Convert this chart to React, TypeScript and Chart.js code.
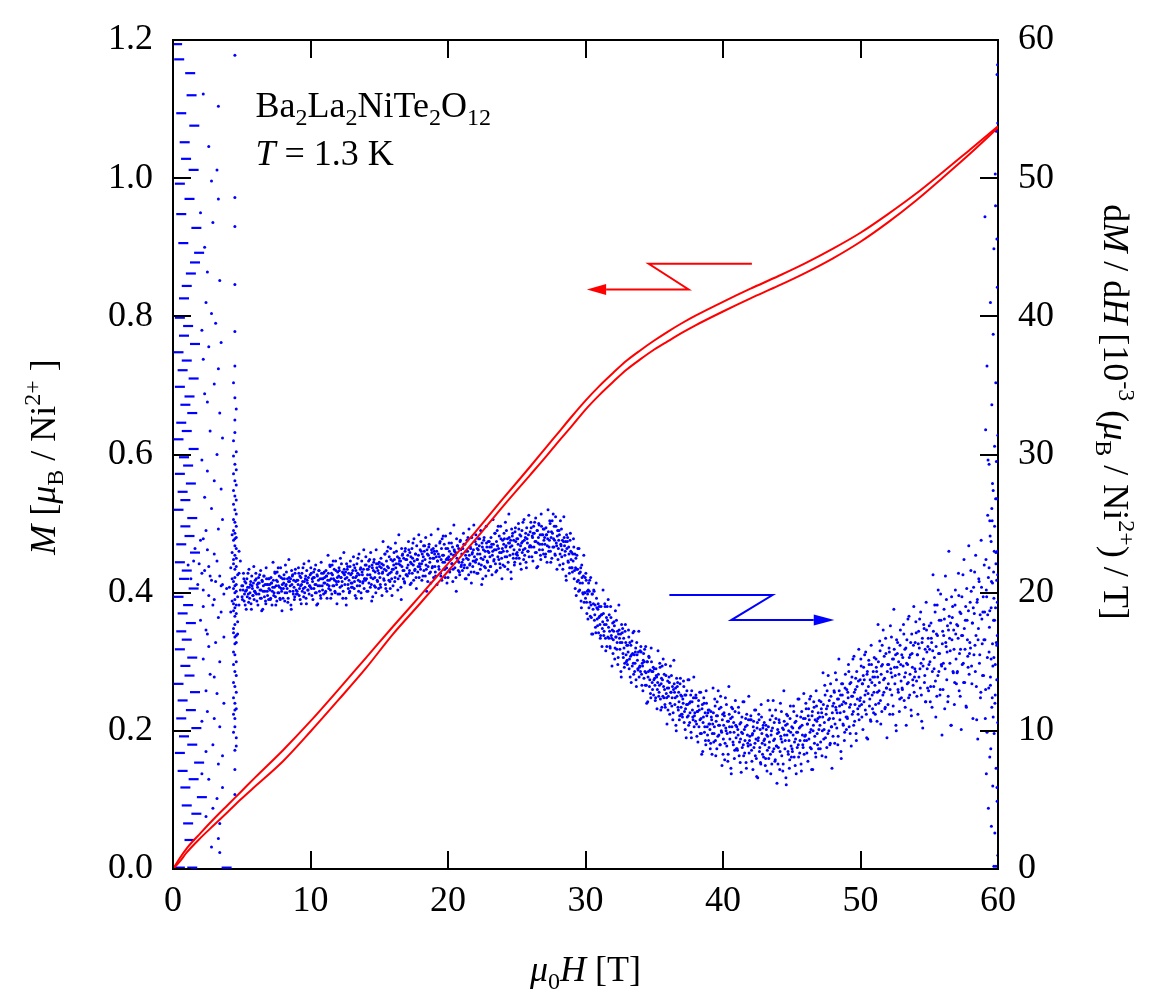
import { useEffect, useRef } from "react";
import { Chart, registerables } from "chart.js";

Chart.register(...registerables);

const FAMILY = '"Liberation Serif", "Times New Roman", Times, serif';
const SIZE = 36;
const RED = "#ff0000";
const BLUE = "#0000ff";
const TICK_LEN = 18;

// Axis ticks
const fieldTicks = [0, 10, 20, 30, 40, 50, 60];
const magTicks = [0, 0.2, 0.4, 0.6, 0.8, 1.0, 1.2];
const derivTicks = [0, 10, 20, 30, 40, 50, 60];

// Magnetization M (μB / Ni2+) for the two field sweeps
const mField = [0, 0.5, 1, 2, 3, 4, 5, 6, 8, 10, 12, 14, 16, 18, 20, 22, 24, 26, 27, 28, 29, 30, 31, 32, 33, 34, 35, 36, 37, 38, 40, 42, 44, 46, 48, 50, 52, 54, 56, 58, 60];
const mSweepDown = [0, 0.016, 0.03, 0.052, 0.073, 0.093, 0.113, 0.133, 0.172, 0.214, 0.259, 0.305, 0.351, 0.396, 0.442, 0.488, 0.536, 0.583, 0.607, 0.631, 0.655, 0.678, 0.699, 0.718, 0.736, 0.751, 0.765, 0.778, 0.79, 0.801, 0.821, 0.84, 0.858, 0.877, 0.898, 0.921, 0.948, 0.977, 1.009, 1.042, 1.075];
const mSweepUp = [0, 0.011, 0.024, 0.045, 0.064, 0.083, 0.102, 0.12, 0.156, 0.199, 0.244, 0.29, 0.34, 0.385, 0.431, 0.477, 0.525, 0.571, 0.594, 0.618, 0.641, 0.665, 0.686, 0.705, 0.723, 0.738, 0.752, 0.764, 0.776, 0.787, 0.807, 0.826, 0.844, 0.863, 0.884, 0.908, 0.936, 0.967, 1.001, 1.036, 1.073];

// dM/dH (10^-3 μB / Ni2+ / T): each row = start field, then 20 samples spaced 0.05 T
const SAMPLE_STEP = 0.05;
const plateauRows = [
  [5, 20.5, 19.5, 20.2, 21.0, 19.9, 19.1, 20.7, 20.2, 19.7, 21.4, 19.3, 20.4, 20.0, 20.8, 18.8, 20.5, 19.8, 20.7, 19.5, 20.1],
  [6, 20.0, 21.0, 19.4, 20.4, 20.7, 19.9, 21.3, 19.6, 20.2, 18.7, 20.8, 20.1, 21.2, 19.7, 20.6, 19.2, 21.0, 20.1, 20.6, 19.5],
  [7, 21.0, 20.2, 19.6, 20.7, 19.1, 20.4, 20.9, 20.0, 21.5, 19.7, 20.5, 19.4, 20.8, 21.8, 20.0, 20.4, 19.5, 21.1, 20.1, 20.6],
  [8, 19.6, 20.7, 21.0, 20.0, 20.5, 21.5, 20.3, 19.3, 20.8, 21.1, 20.1, 21.0, 18.8, 20.6, 21.3, 19.9, 20.4, 19.7, 21.7, 20.2],
  [9, 20.9, 19.9, 20.6, 21.4, 20.3, 19.5, 21.1, 20.6, 20.1, 21.8, 19.7, 20.8, 20.4, 21.2, 19.2, 20.9, 20.2, 21.1, 19.9, 20.5],
  [10, 20.4, 21.4, 19.8, 20.8, 21.1, 20.3, 21.7, 20.0, 20.6, 19.1, 21.2, 20.5, 21.6, 20.1, 21.0, 19.6, 21.4, 20.5, 21.0, 19.9],
  [11, 21.5, 20.7, 20.1, 21.2, 19.6, 20.9, 21.4, 20.5, 22.0, 20.2, 21.0, 19.9, 21.3, 22.3, 20.5, 20.9, 20.0, 21.6, 20.6, 21.1],
  [12, 19.9, 21.2, 21.6, 20.4, 21.1, 22.1, 20.8, 19.6, 21.4, 21.7, 20.6, 21.5, 19.1, 21.1, 21.9, 20.3, 20.9, 20.1, 22.3, 20.7],
  [13, 21.4, 20.4, 21.1, 22.0, 20.8, 19.8, 21.6, 21.2, 20.5, 22.5, 20.1, 21.3, 20.8, 21.8, 19.6, 21.5, 20.7, 21.7, 20.3, 21.0],
  [14, 20.9, 22.0, 20.1, 21.3, 21.7, 20.7, 22.4, 20.4, 21.1, 19.4, 21.8, 21.0, 22.2, 20.5, 21.5, 20.0, 22.1, 20.9, 21.6, 20.3],
];
const humpRows = [
  [15, 22.2, 21.1, 20.4, 21.8, 19.8, 21.5, 22.0, 20.9, 22.8, 20.6, 21.6, 20.1, 21.9, 23.3, 20.9, 21.4, 20.3, 22.4, 21.0, 21.7],
  [16, 20.5, 22.0, 22.4, 21.1, 21.8, 23.0, 21.5, 20.2, 22.1, 22.5, 21.2, 22.3, 19.5, 21.9, 22.8, 21.0, 21.6, 20.7, 23.2, 21.3],
  [17, 22.4, 21.2, 22.0, 23.1, 21.6, 20.6, 22.6, 22.1, 21.4, 23.6, 20.9, 22.3, 21.7, 22.8, 20.3, 22.4, 21.5, 22.7, 21.1, 21.9],
  [18, 21.7, 23.0, 20.9, 22.3, 22.6, 21.6, 23.4, 21.2, 22.0, 20.1, 22.8, 21.9, 23.3, 21.4, 22.5, 20.7, 23.1, 21.8, 22.5, 21.1],
  [19, 23.0, 21.9, 21.2, 22.6, 20.6, 22.3, 22.8, 21.7, 23.6, 21.4, 22.4, 20.9, 22.7, 24.1, 21.7, 22.2, 21.1, 23.2, 21.8, 22.5],
  [20, 21.1, 22.6, 23.0, 21.7, 22.4, 23.6, 22.1, 20.8, 22.7, 23.1, 21.8, 22.9, 20.1, 22.5, 23.4, 21.6, 22.2, 21.3, 23.8, 21.9],
  [21, 22.8, 21.6, 22.4, 23.5, 22.0, 21.0, 23.0, 22.5, 21.8, 24.0, 21.3, 22.7, 22.1, 23.2, 20.7, 22.8, 21.9, 23.1, 21.5, 22.3],
  [22, 22.2, 23.5, 21.4, 22.8, 23.1, 22.1, 23.9, 21.7, 22.5, 20.6, 23.3, 22.4, 23.8, 21.9, 23.0, 21.2, 23.6, 22.3, 23.0, 21.6],
  [23, 23.7, 22.6, 21.9, 23.3, 21.3, 23.0, 23.5, 22.4, 24.3, 22.1, 23.1, 21.6, 23.4, 24.8, 22.4, 22.9, 21.8, 23.9, 22.5, 23.2],
  [24, 22.0, 23.5, 23.9, 22.6, 23.3, 24.5, 23.0, 21.7, 23.6, 24.0, 22.7, 23.8, 21.0, 23.4, 24.3, 22.5, 23.1, 22.2, 24.7, 22.8],
  [25, 23.9, 22.7, 23.5, 24.6, 23.1, 22.1, 24.1, 23.6, 22.9, 25.1, 22.4, 23.8, 23.2, 24.3, 21.8, 23.9, 23.0, 24.2, 22.6, 23.4],
  [26, 23.4, 24.7, 22.6, 24.0, 24.3, 23.3, 25.1, 22.9, 23.7, 21.8, 24.5, 23.6, 25.0, 23.1, 24.2, 22.4, 24.8, 23.5, 24.2, 22.8],
  [27, 24.6, 23.5, 22.8, 24.2, 22.2, 23.9, 24.4, 23.3, 25.2, 23.0, 24.0, 22.5, 24.3, 25.7, 23.3, 23.8, 22.7, 24.8, 23.4, 24.1],
  [28, 22.4, 23.8, 24.2, 22.8, 23.5, 24.6, 23.1, 21.7, 23.7, 24.0, 22.7, 23.7, 20.9, 23.2, 24.0, 22.2, 22.8, 21.8, 24.3, 22.4],
];
const dropRows = [
  [29, 22.9, 21.5, 22.3, 23.3, 21.6, 20.3, 22.5, 21.7, 20.8, 23.2, 20.1, 21.4, 20.7, 21.8, 18.9, 21.1, 20.0, 21.2, 19.3, 20.0],
  [30, 19.6, 20.9, 18.5, 19.9, 20.2, 18.9, 20.9, 18.3, 19.1, 17.0, 19.9, 18.8, 20.2, 18.0, 19.1, 17.1, 19.6, 18.1, 18.8, 17.1],
  [31, 19.0, 17.7, 16.9, 18.4, 16.1, 17.9, 18.5, 17.2, 19.2, 16.7, 17.7, 16.1, 18.0, 19.5, 16.7, 17.2, 16.0, 18.2, 16.7, 17.3],
  [32, 15.6, 17.2, 17.6, 16.0, 16.8, 18.0, 16.4, 14.8, 17.0, 17.3, 15.9, 17.0, 13.9, 16.4, 17.4, 15.3, 16.0, 14.9, 17.7, 15.5],
  [33, 16.2, 14.8, 15.7, 16.8, 15.2, 13.9, 16.2, 15.5, 14.7, 17.1, 14.1, 15.5, 14.9, 16.0, 13.2, 15.5, 14.5, 15.7, 13.9, 14.7],
  [34, 14.3, 15.7, 13.3, 14.7, 15.1, 13.8, 15.9, 13.3, 14.2, 12.0, 15.0, 13.9, 15.4, 13.2, 14.4, 12.4, 15.0, 13.5, 14.3, 12.6],
  [35, 14.5, 13.3, 12.4, 14.0, 11.6, 13.5, 14.1, 12.8, 14.9, 12.3, 13.4, 11.7, 13.7, 15.2, 12.4, 13.0, 11.7, 14.0, 12.4, 13.1],
  [36, 11.5, 13.1, 13.5, 12.0, 12.8, 14.0, 12.4, 10.8, 13.0, 13.4, 11.9, 13.1, 10.0, 12.5, 13.5, 11.5, 12.1, 11.1, 13.8, 11.7],
  [37, 12.5, 11.0, 12.0, 13.2, 11.4, 10.1, 12.6, 11.9, 11.0, 13.7, 10.4, 12.0, 11.3, 12.6, 9.5, 12.1, 11.0, 12.4, 10.3, 11.3],
  [38, 10.7, 12.4, 9.6, 11.4, 11.8, 10.3, 12.8, 9.8, 10.9, 8.3, 11.9, 10.6, 12.4, 9.9, 11.3, 9.0, 12.0, 10.3, 11.3, 9.3],
];
const dipRows = [
  [39, 11.5, 10.1, 9.1, 11.0, 8.3, 10.5, 11.3, 9.8, 12.3, 9.3, 10.7, 8.7, 11.1, 12.9, 9.7, 10.4, 9.0, 11.7, 9.9, 10.8],
  [40, 8.3, 10.4, 11.1, 9.1, 10.2, 11.9, 9.8, 7.8, 10.7, 11.2, 9.4, 10.9, 6.9, 10.3, 11.6, 9.0, 9.9, 8.6, 12.2, 9.5],
  [41, 10.3, 8.6, 9.7, 11.3, 9.2, 7.7, 10.6, 9.9, 8.8, 12.1, 8.2, 10.1, 9.3, 10.9, 7.3, 10.4, 9.1, 10.8, 8.4, 9.6],
  [42, 9.0, 10.8, 7.8, 9.8, 10.3, 8.8, 11.5, 8.2, 9.4, 6.7, 10.6, 9.3, 11.2, 8.5, 10.1, 7.6, 11.0, 9.1, 10.2, 8.1],
  [43, 10.6, 9.0, 8.0, 10.1, 7.1, 9.6, 10.3, 8.8, 11.5, 8.3, 9.7, 7.6, 10.2, 12.2, 8.7, 9.4, 7.9, 10.9, 8.9, 9.8],
  [44, 7.6, 9.9, 10.6, 8.5, 9.6, 11.4, 9.2, 7.1, 10.1, 10.7, 8.7, 10.4, 6.1, 9.7, 11.1, 8.3, 9.3, 7.9, 11.8, 8.9],
  [45, 10.3, 8.5, 9.7, 11.4, 9.2, 7.5, 10.7, 9.9, 8.8, 12.3, 8.1, 10.2, 9.3, 11.0, 7.1, 10.4, 9.0, 10.9, 8.3, 9.6],
  [46, 9.7, 11.6, 8.4, 10.5, 11.1, 9.4, 12.3, 8.8, 10.1, 7.2, 11.4, 10.0, 12.1, 9.1, 10.8, 8.1, 11.8, 9.8, 10.9, 8.7],
  [47, 12.2, 10.4, 9.2, 11.6, 8.2, 11.0, 11.9, 10.1, 13.3, 9.5, 11.2, 8.8, 11.8, 14.0, 10.0, 10.9, 9.1, 12.5, 10.3, 11.3],
  [48, 9.6, 12.0, 12.8, 10.5, 11.7, 13.7, 11.3, 9.0, 12.3, 12.9, 10.8, 12.6, 8.0, 11.9, 13.4, 10.4, 11.4, 9.9, 14.1, 11.0],
];
const riseRows = [
  [49, 13.0, 10.9, 12.4, 14.3, 11.7, 9.8, 13.5, 12.5, 11.2, 15.2, 10.4, 12.8, 11.9, 13.8, 9.3, 13.2, 11.6, 13.6, 10.8, 12.2],
  [50, 12.4, 14.7, 11.0, 13.4, 14.0, 12.1, 15.5, 11.5, 12.9, 9.5, 14.3, 12.7, 15.1, 11.8, 13.7, 10.7, 14.8, 12.6, 13.9, 11.3],
  [51, 15.3, 13.3, 11.9, 14.6, 10.7, 13.9, 15.0, 12.9, 16.5, 12.2, 14.1, 11.4, 14.8, 17.3, 12.8, 13.8, 11.7, 15.6, 13.1, 14.3],
  [52, 11.9, 14.8, 15.7, 13.0, 14.5, 16.8, 13.9, 11.2, 15.2, 15.9, 13.4, 15.5, 10.0, 14.6, 16.4, 12.8, 14.1, 12.3, 17.3, 13.6],
  [53, 15.5, 13.0, 14.7, 17.0, 13.9, 11.7, 16.0, 14.9, 13.4, 18.1, 12.4, 15.3, 14.1, 16.4, 11.1, 15.6, 13.7, 16.2, 12.8, 14.5],
  [54, 14.3, 17.1, 12.5, 15.5, 16.3, 13.9, 18.1, 13.1, 14.9, 10.7, 16.7, 14.7, 17.7, 13.5, 15.9, 12.1, 17.3, 14.5, 16.1, 12.9],
  [55, 17.6, 15.0, 13.2, 16.7, 11.7, 15.8, 17.2, 14.5, 19.1, 13.6, 16.1, 12.5, 16.9, 20.2, 14.3, 15.6, 13.0, 18.0, 14.7, 16.3],
  [56, 13.0, 16.9, 18.1, 14.5, 16.4, 19.5, 15.7, 12.1, 17.3, 18.3, 14.9, 17.8, 10.4, 16.6, 19.0, 14.2, 15.9, 13.5, 20.2, 15.2],
  [57, 17.7, 14.3, 16.7, 19.8, 15.6, 12.5, 18.5, 16.9, 14.8, 21.3, 13.5, 17.4, 15.9, 19.0, 11.7, 18.0, 15.4, 18.7, 14.1, 16.4],
  [58, 16.0, 20.1, 13.4, 17.8, 18.9, 15.5, 21.5, 14.3, 16.9, 10.8, 19.5, 16.6, 21.0, 14.9, 18.4, 12.8, 20.4, 16.3, 18.6, 14.0],
  [59, 22.0, 16.6, 13.0, 20.2, 9.9, 18.4, 21.1, 15.7, 25.2, 13.9, 18.9, 11.7, 20.7, 27.4, 15.3, 18.0, 12.6, 22.9, 16.2, 19.3],
];

// Second sweep of dM/dH: same layout, samples offset by half a step
const SECOND_OFFSET = 0.025;
const secondLowRows = [
  [5, 19.7, 20.5, 21.4, 19.4, 20.8, 20.1, 18.8, 21.0, 20.4, 19.9, 21.7, 19.6, 20.6, 19.2, 21.2, 20.3, 19.8, 21.9, 20.1, 20.9],
  [6, 21.4, 19.9, 20.6, 19.1, 21.1, 20.7, 20.2, 21.6, 19.6, 20.9, 18.8, 20.5, 21.2, 20.1, 19.4, 21.8, 20.6, 19.8, 21.0, 20.3],
  [7, 20.6, 19.5, 21.1, 20.7, 20.1, 22.2, 19.8, 20.4, 21.4, 19.1, 20.9, 21.5, 20.0, 20.5, 21.2, 19.6, 21.8, 20.3, 18.7, 21.0],
  [8, 20.3, 21.3, 19.4, 22.0, 20.6, 20.0, 21.0, 19.6, 22.4, 20.8, 20.5, 19.1, 21.6, 21.2, 20.1, 20.9, 19.5, 21.4, 20.8, 19.9],
  [9, 20.1, 20.9, 21.8, 19.8, 21.2, 20.5, 19.2, 21.4, 20.8, 20.3, 22.1, 20.0, 21.0, 19.6, 21.6, 20.7, 20.2, 22.3, 20.5, 21.3],
  [10, 21.8, 20.3, 21.0, 19.5, 21.5, 21.1, 20.6, 22.0, 20.0, 21.3, 19.2, 20.9, 21.6, 20.5, 19.8, 22.2, 21.0, 20.2, 21.4, 20.7],
  [11, 21.1, 20.0, 21.6, 21.2, 20.6, 22.7, 20.3, 20.9, 21.9, 19.6, 21.4, 22.0, 20.5, 21.0, 21.7, 20.1, 22.3, 20.8, 19.2, 21.5],
  [12, 20.8, 21.8, 19.9, 22.5, 21.1, 20.5, 21.5, 20.1, 22.9, 21.3, 21.0, 19.6, 22.1, 21.7, 20.6, 21.4, 20.0, 21.9, 21.3, 20.4],
  [13, 20.7, 21.6, 22.6, 20.3, 21.8, 21.1, 19.6, 22.1, 21.4, 20.9, 22.8, 20.5, 21.7, 20.0, 22.3, 21.3, 20.8, 23.1, 21.0, 22.0],
  [14, 22.6, 21.0, 21.7, 20.1, 22.3, 21.9, 21.3, 22.9, 20.6, 22.0, 19.7, 21.6, 22.4, 21.1, 20.4, 23.1, 21.8, 20.8, 22.1, 21.4],
  [15, 21.9, 20.6, 22.5, 22.1, 21.4, 23.7, 21.0, 21.7, 22.8, 20.3, 22.3, 23.0, 21.3, 21.8, 22.6, 20.8, 23.2, 21.5, 19.8, 22.3],
  [16, 21.7, 22.9, 20.8, 23.6, 22.1, 21.4, 22.6, 21.0, 24.2, 22.3, 22.0, 20.4, 23.2, 22.7, 21.6, 22.5, 20.8, 23.0, 22.4, 21.3],
  [17, 21.8, 22.7, 23.7, 21.4, 22.9, 22.2, 20.7, 23.2, 22.5, 22.0, 23.9, 21.6, 22.8, 21.1, 23.4, 22.4, 21.9, 24.2, 22.1, 23.1],
  [18, 23.7, 22.1, 22.8, 21.2, 23.4, 23.0, 22.4, 24.0, 21.7, 23.1, 20.8, 22.7, 23.5, 22.2, 21.5, 24.2, 22.9, 21.9, 23.2, 22.5],
  [19, 22.8, 21.5, 23.4, 23.0, 22.3, 24.6, 21.9, 22.6, 23.7, 21.2, 23.2, 23.9, 22.2, 22.7, 23.5, 21.7, 24.1, 22.4, 20.7, 23.2],
  [20, 22.4, 23.6, 21.5, 24.3, 22.8, 22.1, 23.3, 21.7, 24.9, 23.0, 22.7, 21.1, 23.9, 23.4, 22.3, 23.2, 21.5, 23.7, 23.1, 22.0],
  [21, 22.2, 23.2, 24.3, 21.8, 23.5, 22.7, 21.0, 23.8, 23.0, 22.4, 24.6, 22.0, 23.3, 21.5, 24.0, 22.9, 22.3, 24.9, 22.6, 23.7],
  [22, 24.2, 22.4, 23.2, 21.4, 23.9, 23.4, 22.8, 24.5, 22.0, 23.6, 21.0, 23.1, 24.0, 22.6, 21.8, 24.8, 23.3, 22.2, 23.7, 22.9],
  [23, 23.3, 21.9, 24.0, 23.5, 22.7, 25.3, 22.3, 23.1, 24.3, 21.5, 23.7, 24.5, 22.6, 23.2, 24.1, 22.1, 24.8, 22.9, 21.0, 23.8],
  [24, 23.0, 24.3, 21.9, 25.1, 23.4, 22.6, 23.9, 22.2, 25.7, 23.6, 23.3, 21.5, 24.6, 24.1, 22.8, 23.8, 22.0, 24.4, 23.7, 22.5],
  [25, 22.9, 23.9, 25.0, 22.5, 24.2, 23.4, 21.7, 24.5, 23.7, 23.1, 25.3, 22.7, 24.0, 22.2, 24.7, 23.6, 23.0, 25.6, 23.3, 24.4],
  [26, 25.1, 23.3, 24.1, 22.3, 24.8, 24.3, 23.7, 25.4, 22.9, 24.5, 21.9, 24.0, 24.9, 23.5, 22.7, 25.7, 24.2, 23.1, 24.6, 23.8],
  [27, 24.0, 22.6, 24.7, 24.2, 23.4, 26.0, 23.0, 23.8, 25.0, 22.2, 24.4, 25.2, 23.3, 23.9, 24.8, 22.8, 25.5, 23.6, 21.7, 24.5],
  [28, 23.2, 24.5, 22.0, 25.2, 23.4, 22.6, 23.8, 22.1, 25.5, 23.4, 23.0, 21.2, 24.2, 23.7, 22.3, 23.3, 21.4, 23.8, 23.0, 21.8],
];
const secondHighRows = [
  [29, 21.8, 22.8, 23.9, 21.0, 22.8, 21.8, 19.8, 22.7, 21.7, 20.9, 23.2, 20.2, 21.5, 19.4, 22.0, 20.7, 19.9, 22.7, 20.0, 21.1],
  [30, 21.4, 19.3, 20.1, 18.1, 20.7, 20.1, 19.3, 21.1, 18.2, 19.9, 17.0, 19.2, 20.1, 18.4, 17.5, 20.7, 18.9, 17.6, 19.2, 18.2],
  [31, 18.3, 16.7, 19.0, 18.4, 17.4, 20.2, 16.9, 17.7, 19.0, 15.8, 18.2, 19.0, 16.8, 17.5, 18.4, 16.1, 19.0, 16.9, 14.7, 17.8],
  [32, 16.6, 17.9, 15.2, 18.7, 16.8, 15.9, 17.2, 15.3, 19.1, 16.7, 16.4, 14.3, 17.7, 17.1, 15.6, 16.7, 14.6, 17.2, 16.4, 15.0],
  [33, 15.1, 16.2, 17.3, 14.5, 16.4, 15.4, 13.5, 16.5, 15.6, 14.9, 17.2, 14.3, 15.7, 13.7, 16.4, 15.1, 14.4, 17.2, 14.6, 15.8],
  [34, 16.1, 14.1, 14.9, 12.9, 15.6, 15.0, 14.3, 16.1, 13.3, 15.0, 12.1, 14.3, 15.3, 13.7, 12.7, 16.0, 14.3, 13.0, 14.6, 13.7],
  [35, 13.8, 12.2, 14.5, 13.9, 13.0, 15.8, 12.5, 13.3, 14.6, 11.5, 13.8, 14.7, 12.5, 13.2, 14.1, 11.9, 14.8, 12.7, 10.5, 13.6],
  [36, 12.5, 13.9, 11.2, 14.7, 12.8, 11.8, 13.2, 11.3, 15.1, 12.8, 12.4, 10.4, 13.8, 13.2, 11.7, 12.8, 10.8, 13.4, 12.6, 11.2],
  [37, 11.2, 12.3, 13.6, 10.6, 12.6, 11.6, 9.5, 12.9, 11.9, 11.1, 13.7, 10.6, 12.1, 9.9, 12.9, 11.5, 10.8, 13.9, 11.1, 12.4],
  [38, 12.6, 10.5, 11.4, 9.2, 12.2, 11.5, 10.8, 12.8, 9.8, 11.6, 8.5, 11.0, 12.0, 10.3, 9.3, 12.9, 11.1, 9.7, 11.5, 10.5],
  [39, 10.5, 8.7, 11.4, 10.8, 9.8, 13.1, 9.2, 10.3, 11.8, 8.2, 11.1, 12.1, 9.6, 10.4, 11.6, 9.0, 12.5, 10.0, 7.5, 11.2],
  [40, 9.4, 11.3, 7.9, 12.4, 10.0, 8.9, 10.7, 8.3, 13.2, 10.3, 9.9, 7.3, 11.7, 11.0, 9.2, 10.6, 8.0, 11.4, 10.4, 8.7],
  [41, 8.7, 10.1, 11.7, 8.2, 10.5, 9.4, 7.0, 11.0, 9.8, 9.0, 12.1, 8.4, 10.3, 7.7, 11.2, 9.7, 8.9, 12.5, 9.3, 10.8],
  [42, 11.1, 8.6, 9.7, 7.2, 10.7, 10.0, 9.1, 11.5, 8.0, 10.2, 6.6, 9.5, 10.8, 8.8, 7.7, 11.9, 9.8, 8.3, 10.4, 9.3],
  [43, 9.4, 7.5, 10.4, 9.7, 8.6, 12.2, 8.0, 9.2, 10.8, 6.9, 10.0, 11.1, 8.5, 9.3, 10.6, 7.8, 11.5, 8.9, 6.2, 10.1],
  [44, 8.8, 10.8, 7.2, 12.0, 9.4, 8.2, 10.2, 7.6, 12.9, 9.7, 9.3, 6.6, 11.2, 10.5, 8.5, 10.0, 7.3, 10.9, 9.9, 8.1],
  [45, 8.7, 10.2, 11.8, 8.1, 10.6, 9.4, 6.9, 11.1, 9.9, 9.0, 12.3, 8.4, 10.3, 7.6, 11.4, 9.7, 8.8, 12.7, 9.3, 10.9],
  [46, 12.0, 9.3, 10.5, 7.8, 11.6, 10.8, 9.9, 12.5, 8.7, 11.1, 7.2, 10.4, 11.7, 9.6, 8.4, 12.9, 10.7, 9.0, 11.3, 10.1],
  [47, 11.0, 8.7, 12.1, 11.3, 10.0, 14.2, 9.4, 10.6, 12.6, 8.1, 11.6, 12.9, 9.8, 10.8, 12.2, 9.0, 13.4, 10.3, 7.3, 11.8],
  [48, 10.9, 12.9, 9.1, 14.2, 11.5, 10.2, 12.3, 9.6, 15.2, 11.8, 11.3, 8.5, 13.4, 12.6, 10.5, 12.1, 9.3, 13.1, 12.0, 10.1],
  [49, 11.0, 12.8, 14.8, 10.3, 13.4, 11.9, 8.9, 13.9, 12.5, 11.4, 15.4, 10.7, 13.0, 9.8, 14.3, 12.3, 11.2, 15.9, 11.8, 13.7],
  [50, 15.2, 11.9, 13.4, 10.1, 14.6, 13.7, 12.6, 15.7, 11.2, 14.1, 9.4, 13.2, 14.8, 12.3, 10.8, 16.2, 13.5, 11.6, 14.3, 12.8],
  [51, 13.9, 11.2, 15.2, 14.3, 12.8, 17.7, 12.0, 13.5, 15.8, 10.5, 14.7, 16.2, 12.6, 13.7, 15.4, 11.6, 16.7, 13.1, 9.5, 14.8],
  [52, 13.4, 16.0, 11.2, 17.6, 14.2, 12.6, 15.2, 11.8, 18.8, 14.6, 14.0, 10.4, 16.6, 15.6, 13.0, 15.0, 11.4, 16.2, 14.8, 12.4],
  [53, 13.1, 15.3, 17.7, 12.2, 15.9, 14.2, 10.4, 16.6, 14.8, 13.5, 18.3, 12.6, 15.5, 11.5, 17.0, 14.6, 13.3, 19.0, 13.9, 16.4],
  [54, 17.9, 13.6, 15.5, 11.2, 17.2, 16.0, 14.5, 18.6, 12.6, 16.4, 10.2, 15.2, 17.4, 14.0, 12.1, 19.3, 15.7, 13.1, 16.7, 14.8],
  [55, 15.9, 12.1, 17.8, 16.4, 14.3, 21.3, 13.2, 15.3, 18.6, 11.0, 17.0, 19.1, 14.0, 15.6, 18.0, 12.6, 19.9, 14.8, 9.7, 17.2],
  [56, 14.9, 18.8, 11.6, 21.2, 16.1, 13.7, 17.6, 12.5, 23.0, 16.7, 15.8, 10.4, 19.7, 18.2, 14.3, 17.3, 11.9, 19.1, 17.0, 13.4],
  [57, 14.2, 17.6, 21.4, 12.9, 18.6, 15.9, 10.1, 19.7, 16.9, 14.9, 22.4, 13.5, 18.0, 11.8, 20.3, 16.6, 14.6, 23.4, 15.6, 19.3],
  [58, 21.6, 14.7, 17.8, 10.9, 20.4, 18.5, 16.2, 22.7, 13.2, 19.3, 9.4, 17.4, 20.8, 15.5, 12.4, 23.8, 18.1, 14.0, 19.7, 16.6],
  [59, 18.6, 10.9, 22.4, 19.7, 15.3, 29.6, 13.1, 17.5, 24.1, 8.7, 20.8, 25.2, 14.7, 18.0, 23.0, 12.0, 26.8, 16.4, 5.9, 21.3],
];

// Scattered derivative points close to the top field
const edgeScatter = [
  [59.05, 47.2], [59.1, 31.8], [59.15, 6.9], [59.2, 36.4], [59.25, 25.6], [59.3, 4.4], [59.35, 29.3], [59.4, 8.1],
  [59.45, 41.0], [59.5, 23.7], [59.52, 3.1], [59.55, 33.6], [59.58, 12.4], [59.6, 27.9], [59.62, 6.0], [59.65, 38.7],
  [59.68, 21.5], [59.7, 44.9], [59.72, 9.8], [59.75, 30.6], [59.77, 2.6], [59.8, 50.3], [59.82, 18.9], [59.84, 35.2],
  [59.86, 7.3], [59.88, 53.4], [59.9, 26.8], [59.91, 13.7], [59.93, 57.5], [59.94, 4.9], [59.95, 42.1], [59.96, 23.0],
  [59.97, 58.2], [59.98, 10.6], [59.99, 31.4], [59.99, 1.0], [59.6, 16.3], [59.7, 19.6], [59.8, 14.8], [59.9, 20.9],
  [59.5, 15.2], [59.4, 18.7], [59.75, 24.8], [59.85, 22.1], [59.65, 11.0], [59.55, 26.1], [59.45, 13.3], [59.35, 21.8],
  [59.95, 16.9], [59.88, 29.5], [59.82, 48.0], [59.92, 45.6], [59.98, 54.0], [59.85, 0.2], [59.7, 0.2],
];

// Low-field derivative: quantised steps (drawn as short dashes)
const lowFieldSteps = [
  [0.3, 59.7], [0.45, 58.6], [1.25, 57.6], [1.35, 56.0], [0.6, 54.7], [1.55, 53.8], [0.85, 52.6], [0.95, 51.4], [1.5, 50.6],
  [0.5, 49.6], [1.2, 48.5], [0.6, 47.4], [1.7, 46.4], [0.75, 45.3], [1.9, 44.6], [1.6, 43.9], [1.3, 43.1],
  [1.0, 42.2], [0.8, 41.3], [0.5, 39.9], [0.8, 38.6], [0.4, 37.4], [0.7, 36.1], [0.5, 34.9], [0.9, 33.6],
  [0.6, 32.3], [0.4, 31.1], [0.8, 29.8], [0.5, 28.6], [0.7, 27.3], [0.4, 26.0], [0.9, 24.8], [0.6, 23.5],
  [0.5, 22.2], [0.8, 21.0], [0.4, 19.7], [0.7, 18.5], [0.6, 17.2], [0.5, 15.9], [0.9, 14.7], [0.4, 13.4],
  [0.7, 12.2], [0.6, 10.9], [0.8, 9.6], [0.5, 8.4], [0.7, 7.1], [0.9, 5.9], [1.0, 4.6], [1.1, 3.3], [1.2, 2.1],
  [1.6, 38.0], [1.5, 35.5], [1.4, 33.0], [1.5, 30.4], [1.3, 27.9], [1.4, 25.4], [1.6, 22.9], [1.5, 20.3],
  [1.3, 17.8], [1.4, 15.3], [1.6, 12.8], [1.7, 10.2], [1.9, 7.7], [2.1, 5.2],
  [1.1, 39.3], [1.0, 36.8], [1.2, 34.2], [1.0, 31.7], [1.1, 29.2], [0.9, 26.7], [1.2, 24.1], [1.0, 21.6],
  [1.1, 19.1], [1.0, 16.6], [1.2, 14.0], [1.3, 11.5], [1.4, 9.0], [1.5, 6.5], [1.7, 4.0],
  [0.5, 0.1], [1.4, 0.1], [3.9, 0.1],
];
// Low-field derivative: isolated points
const lowFieldDots = [
  [2.4, 41.0], [2.6, 37.8], [3.3, 36.2], [2.3, 34.4], [3.4, 33.0], [2.7, 31.7], [3.2, 30.0], [2.5, 28.8],
  [3.5, 27.5], [2.8, 26.1], [3.3, 24.6], [2.2, 23.9], [3.0, 22.8], [2.6, 21.9], [3.4, 21.2], [3.6, 20.6],
  [2.9, 19.1], [3.3, 18.2], [2.4, 17.3], [3.1, 16.4], [3.4, 15.0], [2.7, 14.1], [3.2, 12.7], [2.5, 11.4],
  [3.4, 10.3], [2.9, 9.0], [3.3, 7.6], [2.6, 6.5], [3.2, 5.1], [3.4, 3.3], [3.3, 2.2], [2.3, 45.0],
  [3.3, 48.5], [2.5, 43.2], [3.1, 39.5], [3.2, 50.6], [2.9, 46.8], [1.1, 22.0], [1.5, 22.3], [1.9, 22.1],
  [2.3, 21.6], [2.7, 21.2], [3.1, 20.8], [3.5, 20.5], [3.9, 20.3], [1.3, 21.0], [1.8, 20.6], [2.2, 20.2],
  [2.6, 19.8], [3.0, 19.5], [1.6, 23.2], [2.0, 23.8], [2.4, 24.5], [2.0, 18.0], [2.5, 17.0],
  [2.1, 39.0], [2.8, 40.2], [3.5, 38.1], [2.2, 36.9], [3.0, 35.1], [2.5, 33.8], [3.6, 31.2], [2.1, 29.6],
  [3.0, 28.1], [2.3, 26.9], [3.6, 25.3], [2.5, 23.1], [3.2, 22.3], [2.1, 21.4], [2.8, 20.9], [3.7, 19.9],
  [2.2, 19.0], [3.5, 18.6], [2.6, 16.1], [3.7, 16.8], [2.2, 15.2], [3.0, 13.9], [2.4, 12.9], [3.7, 12.0],
  [2.1, 10.7], [3.0, 10.9], [2.4, 8.5], [3.6, 8.2], [2.1, 6.9], [2.9, 4.4], [3.6, 5.9], [2.4, 3.8],
  [2.8, 1.6], [3.4, 1.2], [2.0, 47.5], [2.8, 49.8], [3.4, 42.6], [2.6, 52.3], [3.3, 55.2], [2.2, 56.1],
];
// Dense column of derivative points around 4.5 T
const column45 = [
  [4.5, 58.9], [4.5, 48.6], [4.5, 46.5], [4.5, 42.3], [4.5, 38.9], [4.5, 36.4], [4.5, 34.1], [4.5, 32.5],
  [4.4, 31.0], [4.6, 30.2], [4.5, 29.3], [4.4, 28.6], [4.6, 27.8], [4.5, 27.0], [4.4, 26.4], [4.6, 25.7],
  [4.5, 25.1], [4.4, 24.5], [4.6, 24.0], [4.5, 23.4], [4.3, 22.9], [4.6, 22.5], [4.4, 22.1], [4.5, 21.7],
  [4.7, 21.3], [4.3, 21.0], [4.6, 20.6], [4.4, 20.3], [4.5, 20.0], [4.7, 19.7], [4.3, 19.4], [4.6, 19.1],
  [4.4, 18.7], [4.5, 18.3], [4.7, 17.9], [4.4, 17.4], [4.6, 16.9], [4.5, 16.3], [4.4, 15.7], [4.6, 15.0],
  [4.5, 14.3], [4.4, 13.5], [4.6, 12.8], [4.5, 12.0], [4.4, 11.2], [4.5, 10.3], [4.6, 9.5], [4.5, 8.6],
  [4.5, 7.2], [4.5, 5.4], [4.8, 21.4], [4.9, 20.2], [4.8, 19.1], [4.2, 21.8], [4.2, 18.6], [4.9, 22.3],
  [4.1, 20.4], [4.8, 23.0], [4.3, 24.2], [4.7, 17.0],
  [4.4, 29.9], [4.6, 28.9], [4.5, 28.1], [4.4, 27.4], [4.6, 26.7], [4.5, 26.0], [4.4, 25.3], [4.6, 24.8],
  [4.5, 24.3], [4.4, 23.8], [4.6, 23.2], [4.5, 22.7], [4.4, 22.4], [4.6, 21.9], [4.5, 21.1], [4.4, 20.8],
  [4.6, 20.1], [4.5, 19.5], [4.4, 19.2], [4.6, 18.5], [4.5, 17.7], [4.4, 17.1], [4.6, 16.4], [4.5, 15.5],
  [4.4, 14.8], [4.6, 14.0], [4.5, 13.2], [4.4, 12.4], [4.6, 11.6], [4.5, 10.9], [4.4, 9.9], [4.6, 8.9],
  [4.5, 31.6], [4.6, 33.3], [4.4, 35.2], [4.5, 11.5], [4.5, 23.9], [4.5, 20.5], [4.5, 18.9], [4.5, 16.8],
];

// Sweep-direction arrows (field, value) and their tips
const redArrowPath = [[42.1, 0.876], [34.6, 0.876], [37.5, 0.839], [31.5, 0.839]];
const redArrowTip = [30.1, 0.839];
const blueArrowPath = [[36.1, 19.83], [43.6, 19.83], [40.6, 18.02], [46.6, 18.02]];
const blueArrowTip = [48.1, 18.02];

// Sample label position (field, M at baseline)
const sampleLabelAt = [6.0, 1.088];
const tempLabelAt = [6.0, 1.019];

type Run = { t: string; it?: boolean; sub?: boolean; sup?: boolean };

const sampleRuns: Run[] = [
  { t: "Ba" }, { t: "2", sub: true }, { t: "La" }, { t: "2", sub: true },
  { t: "NiTe" }, { t: "2", sub: true }, { t: "O" }, { t: "12", sub: true },
];
const tempRuns: Run[] = [{ t: "T", it: true }, { t: " = 1.3 K" }];
const xTitleRuns: Run[] = [{ t: "μ", it: true }, { t: "0", sub: true }, { t: "H", it: true }, { t: " [T]" }];
const yTitleRuns: Run[] = [
  { t: "M", it: true }, { t: " [" }, { t: "μ", it: true }, { t: "B", sub: true },
  { t: " / Ni" }, { t: "2+", sup: true }, { t: " ]" },
];
const y2TitleRuns: Run[] = [
  { t: "d" }, { t: "M", it: true }, { t: " / d" }, { t: "H", it: true }, { t: " [10" },
  { t: "-3", sup: true }, { t: " (" }, { t: "μ", it: true }, { t: "B", sub: true },
  { t: " / Ni" }, { t: "2+", sup: true }, { t: ") / T]" },
];

function rowsToPoints(rows: number[][], offset = 0) {
  const pts: { x: number; y: number }[] = [];
  for (const row of rows) {
    const start = row[0] + offset;
    for (let i = 1; i < row.length; i++) {
      pts.push({ x: start + (i - 1) * SAMPLE_STEP, y: row[i] });
    }
  }
  return pts;
}

const pairs = (arr: number[][]) => arr.map(([x, y]) => ({ x, y }));

function runFont(r: Run) {
  const small = r.sub || r.sup;
  const size = small ? Math.round(SIZE * 0.68) : SIZE;
  return `${r.it ? "italic " : ""}${size}px ${FAMILY}`;
}

function drawRich(
  ctx: CanvasRenderingContext2D,
  runs: Run[],
  x: number,
  y: number,
  align: "left" | "center",
  rotation: number
) {
  ctx.save();
  ctx.translate(x, y);
  ctx.rotate(rotation);
  ctx.fillStyle = "#000";
  ctx.textAlign = "left";
  ctx.textBaseline = "alphabetic";
  let total = 0;
  for (const r of runs) {
    ctx.font = runFont(r);
    total += ctx.measureText(r.t).width;
  }
  let cx = align === "center" ? -total / 2 : 0;
  for (const r of runs) {
    ctx.font = runFont(r);
    const dy = r.sub ? SIZE * 0.22 : r.sup ? -SIZE * 0.42 : 0;
    ctx.fillText(r.t, cx, dy);
    cx += ctx.measureText(r.t).width;
  }
  ctx.restore();
}

const framePlugin = {
  id: "frameDecor",
  afterDatasetsDraw(chart: any) {
    const { ctx, chartArea: a, scales } = chart;
    const xs = scales.x;
    const ys = scales.y;
    const y2s = scales.y2;
    ctx.save();

    // arrowheads
    const head = (path: number[][], tip: number[], scale: any, color: string) => {
      const last = path[path.length - 1];
      const bx = xs.getPixelForValue(last[0]);
      const by = scale.getPixelForValue(last[1]);
      const tx = xs.getPixelForValue(tip[0]);
      const ty = scale.getPixelForValue(tip[1]);
      const len = Math.hypot(tx - bx, ty - by) || 1;
      const nx = -(ty - by) / len;
      const ny = (tx - bx) / len;
      const hw = 5.5;
      ctx.fillStyle = color;
      ctx.beginPath();
      ctx.moveTo(tx, ty);
      ctx.lineTo(bx + nx * hw, by + ny * hw);
      ctx.lineTo(bx - nx * hw, by - ny * hw);
      ctx.closePath();
      ctx.fill();
    };
    head(redArrowPath, redArrowTip, ys, RED);
    head(blueArrowPath, blueArrowTip, y2s, BLUE);

    // inward ticks on all four sides
    ctx.strokeStyle = "#000";
    ctx.lineWidth = 2;
    ctx.beginPath();
    for (const v of fieldTicks) {
      const px = Math.round(xs.getPixelForValue(v));
      ctx.moveTo(px, a.bottom);
      ctx.lineTo(px, a.bottom - TICK_LEN);
      ctx.moveTo(px, a.top);
      ctx.lineTo(px, a.top + TICK_LEN);
    }
    for (const v of magTicks) {
      const py = Math.round(ys.getPixelForValue(v));
      ctx.moveTo(a.left, py);
      ctx.lineTo(a.left + TICK_LEN, py);
    }
    for (const v of derivTicks) {
      const py = Math.round(y2s.getPixelForValue(v));
      ctx.moveTo(a.right, py);
      ctx.lineTo(a.right - TICK_LEN, py);
    }
    ctx.stroke();

    // sample annotation
    drawRich(ctx, sampleRuns, xs.getPixelForValue(sampleLabelAt[0]), ys.getPixelForValue(sampleLabelAt[1]), "left", 0);
    drawRich(ctx, tempRuns, xs.getPixelForValue(tempLabelAt[0]), ys.getPixelForValue(tempLabelAt[1]), "left", 0);
    ctx.restore();
  },
  afterDraw(chart: any) {
    const { ctx, chartArea: a } = chart;
    const midX = (a.left + a.right) / 2;
    drawRich(ctx, xTitleRuns, midX, a.bottom + 112, "center", 0);
    drawRich(ctx, yTitleRuns, 55, 457, "center", -Math.PI / 2);
    drawRich(ctx, y2TitleRuns, 1104, 412, "center", Math.PI / 2);
  },
};

export default function App() {
  const ref = useRef<HTMLCanvasElement>(null);

  useEffect(() => {
    document.body.style.margin = "0";
    const tickFont = { family: FAMILY, size: SIZE };
    const blueDots = [
      ...rowsToPoints(plateauRows),
      ...rowsToPoints(humpRows),
      ...rowsToPoints(dropRows),
      ...rowsToPoints(dipRows),
      ...rowsToPoints(riseRows),
      ...rowsToPoints(secondLowRows, SECOND_OFFSET),
      ...rowsToPoints(secondHighRows, SECOND_OFFSET),
      ...pairs(edgeScatter),
      ...pairs(lowFieldDots),
      ...pairs(column45),
    ];

    const chart = new Chart(ref.current!, {
      type: "scatter",
      data: {
        datasets: [
          {
            label: "M (down sweep)",
            data: mField.map((x, i) => ({ x, y: mSweepDown[i] })),
            yAxisID: "y",
            showLine: true,
            borderColor: RED,
            borderWidth: 2,
            pointRadius: 0,
            cubicInterpolationMode: "monotone",
            order: 0,
          },
          {
            label: "M (up sweep)",
            data: mField.map((x, i) => ({ x, y: mSweepUp[i] })),
            yAxisID: "y",
            showLine: true,
            borderColor: RED,
            borderWidth: 2,
            pointRadius: 0,
            cubicInterpolationMode: "monotone",
            order: 0,
          },
          {
            label: "M arrow",
            data: pairs(redArrowPath),
            yAxisID: "y",
            showLine: true,
            borderColor: RED,
            borderWidth: 2,
            pointRadius: 0,
            order: 0,
          },
          {
            label: "dM/dH arrow",
            data: pairs(blueArrowPath),
            yAxisID: "y2",
            showLine: true,
            borderColor: BLUE,
            borderWidth: 2,
            pointRadius: 0,
            order: 0,
          },
          {
            label: "dM/dH",
            data: blueDots,
            yAxisID: "y2",
            pointStyle: "circle",
            pointRadius: 1.5,
            pointBorderWidth: 0,
            pointBackgroundColor: BLUE,
            order: 2,
          },
          {
            label: "dM/dH steps",
            data: pairs(lowFieldSteps),
            yAxisID: "y2",
            pointStyle: "line",
            pointRadius: 5,
            pointBorderWidth: 2.2,
            pointBorderColor: BLUE,
            pointBackgroundColor: BLUE,
            order: 2,
          },
        ],
      },
      options: {
        animation: false,
        responsive: true,
        maintainAspectRatio: false,
        events: [],
        layout: { padding: { top: 40, left: 0, right: 0, bottom: 0 } },
        plugins: { legend: { display: false }, tooltip: { enabled: false } },
        scales: {
          x: {
            type: "linear",
            position: "bottom",
            min: 0,
            max: 60,
            afterBuildTicks: (s: any) => { s.ticks = fieldTicks.map((v) => ({ value: v })); },
            ticks: { font: tickFont, color: "#000", padding: 3, maxRotation: 0, autoSkip: false, callback: (v: any) => String(v) },
            grid: { display: false },
            border: { display: true, color: "#000", width: 2 },
            afterFit: (s: any) => { s.height = 125; },
          },
          x2: {
            type: "linear",
            position: "top",
            min: 0,
            max: 60,
            ticks: { display: false },
            grid: { display: false },
            border: { display: true, color: "#000", width: 2 },
            afterFit: (s: any) => { s.height = 0; },
          },
          y: {
            type: "linear",
            position: "left",
            min: 0,
            max: 1.2,
            afterBuildTicks: (s: any) => { s.ticks = magTicks.map((v) => ({ value: v })); },
            ticks: { font: tickFont, color: "#000", padding: 12, autoSkip: false, callback: (v: any) => Number(v).toFixed(1) },
            grid: { display: false },
            border: { display: true, color: "#000", width: 2 },
            afterFit: (s: any) => { s.width = 173; },
          },
          y2: {
            type: "linear",
            position: "right",
            min: 0,
            max: 60,
            afterBuildTicks: (s: any) => { s.ticks = derivTicks.map((v) => ({ value: v })); },
            ticks: { font: tickFont, color: "#000", padding: 12, autoSkip: false, callback: (v: any) => String(v) },
            grid: { display: false },
            border: { display: true, color: "#000", width: 2 },
            afterFit: (s: any) => { s.width = 157; },
          },
        },
      },
      plugins: [framePlugin],
    } as any);

    return () => chart.destroy();
  }, []);

  return (
    <div style={{ width: 1155, height: 994, position: "relative", background: "#fff" }}>
      <canvas ref={ref} />
    </div>
  );
}
